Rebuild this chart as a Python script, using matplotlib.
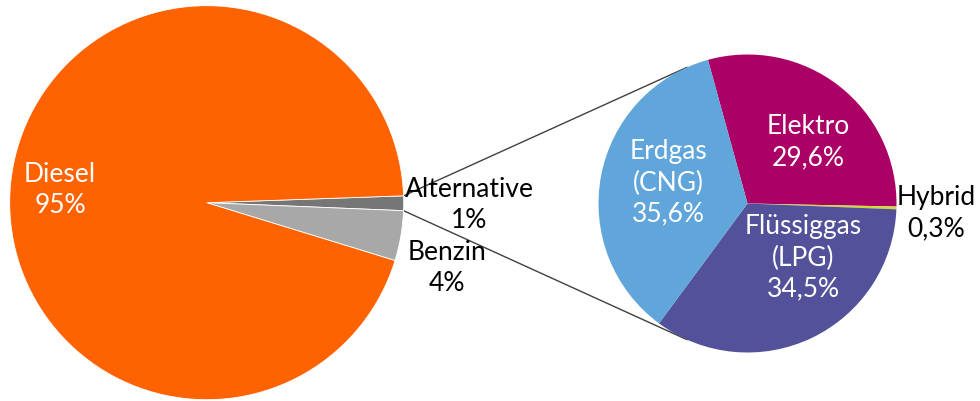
import numpy as np
import matplotlib
matplotlib.use("Agg")
import matplotlib.pyplot as plt

# ---- data ----
main_labels = ["Alternative", "Benzin", "Diesel"]
main_values = [1.2, 4.1, 94.7]
main_colors = ["#767676", "#A8A8A8", "#FF6200"]

sub_labels = ["Elektro", "Hybrid", "Flüssiggas\n(LPG)", "Erdgas\n(CNG)"]
sub_values = [29.6, 0.3, 34.5, 35.6]
sub_colors = ["#AB0066", "#D0D93C", "#525199", "#60A6DA"]

plt.rcParams['font.family'] = ['Lato', 'DejaVu Sans']

fig = plt.figure(figsize=(9.8, 4.01), dpi=100)
ax = fig.add_axes([0, 0, 1, 1])

c1 = (206.7, 198.3); r1 = 197
c2 = (747.5, 197.5); r2 = 149
start1 = 2.0
start2 = 105.4

ax.pie(main_values, colors=main_colors, startangle=start1, counterclock=False,
       center=c1, radius=r1, wedgeprops=dict(edgecolor='white', linewidth=0.6),
       frame=True)
ax.pie(sub_values, colors=sub_colors, startangle=start2, counterclock=False,
       center=c2, radius=r2, wedgeprops=dict(linewidth=0), frame=True)
ax.set_xlim(0, 980)
ax.set_ylim(0, 401)
ax.set_aspect('equal')
ax.axis('off')

# connector lines
a_top = np.deg2rad(start1)
a_bot = np.deg2rad(start1 - 360 * main_values[0] / sum(main_values))
e_top = np.deg2rad(114)
e_bot = np.deg2rad(-114)
for a, e in [(a_top, e_top), (a_bot, e_bot)]:
    x0 = c1[0] + r1 * np.cos(a); y0 = c1[1] + r1 * np.sin(a)
    x1 = c2[0] + r2 * np.cos(e); y1 = c2[1] + r2 * np.sin(e)
    ax.plot([x0, x1], [y0, y1], color='#404040', lw=1.0, zorder=0)

fs = 19
def pct(v, nd):
    s = f"{v:.{nd}f}%"
    return s.replace('.', ',')

# main labels
main_pos = [(469, 401 - 205, 'black'), (447, 401 - 268, 'black'), (60, 401 - 190, 'white')]
for lab, v, (x, y, col) in zip(main_labels, main_values, main_pos):
    ax.text(x, y, f"{lab}\n{pct(v, 0)}", ha='center', va='center', fontsize=fs,
            color=col, linespacing=1.3)

sub_pos = [(808, 401 - 142, 'white'), (936, 401 - 213, 'black'),
           (803, 401 - 258, 'white'), (668, 401 - 183, 'white')]
for lab, v, (x, y, col) in zip(sub_labels, sub_values, sub_pos):
    ax.text(x, y, f"{lab}\n{pct(v, 1)}", ha='center', va='center', fontsize=fs,
            color=col, linespacing=1.3)

fig.savefig("out.png", dpi=100)
